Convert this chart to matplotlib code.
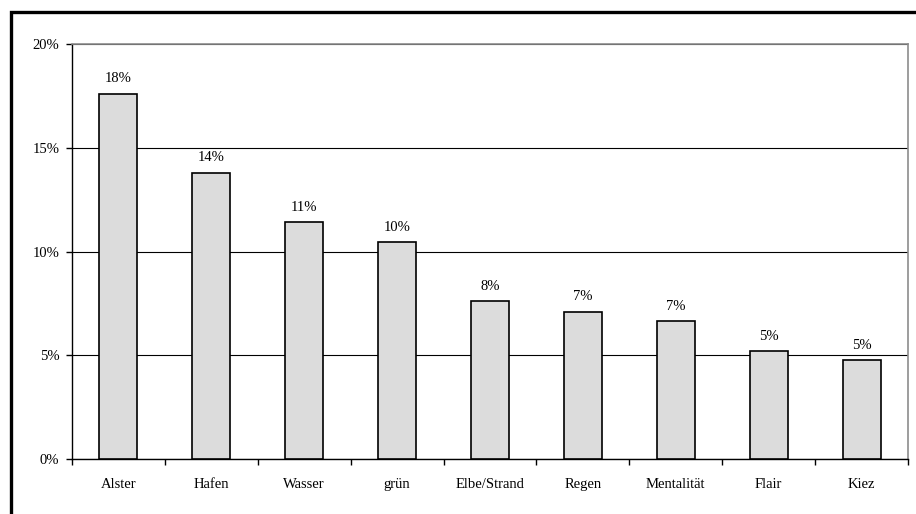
import matplotlib
import matplotlib.pyplot as plt
from matplotlib.patches import Rectangle
from matplotlib.ticker import FixedLocator, PercentFormatter

matplotlib.use('Agg')

begriffe = ["Alster", "Hafen", "Wasser", "grün", "Elbe/Strand", "Regen",
            "Mentalität", "Flair", "Kiez"]
anteile = [17.6, 13.8, 11.4, 10.45, 7.6, 7.1, 6.65, 5.2, 4.75]

plt.rcParams['font.family'] = ['Liberation Serif', 'DejaVu Serif']

fig = plt.figure(figsize=(9.16, 5.14), dpi=100)
ax = fig.add_axes([0.0786, 0.107, 0.9127, 0.8074])

x = range(len(begriffe))
bars = ax.bar(x, anteile, width=0.41, color='#dcdcdc', edgecolor='black',
              linewidth=1.2, zorder=3)

for b, v in zip(bars, anteile):
    ax.annotate(f"{round(v):d}%", (b.get_x() + b.get_width() / 2, v),
                xytext=(0, 6), textcoords='offset points',
                ha='center', va='bottom', fontsize=10.5)

ax.set_xlim(-0.5, len(begriffe) - 0.5)
ax.set_ylim(0, 20)
ax.set_yticks([0, 5, 10, 15, 20])
ax.yaxis.set_major_formatter(PercentFormatter(decimals=0))
ax.set_xticks(list(x))
ax.set_xticklabels(begriffe)
ax.xaxis.set_minor_locator(FixedLocator([i + 0.5 for i in range(-1, len(begriffe))]))
ax.tick_params(axis='x', which='major', length=0, pad=14, labelsize=10.5)
ax.tick_params(axis='x', which='minor', length=4, width=1, direction='out')
ax.tick_params(axis='y', length=4, width=1, pad=5, labelsize=10.5)

ax.grid(axis='y', color='black', linewidth=0.8, zorder=0)
for side in ('top', 'right'):
    ax.spines[side].set_color('#8c8c8c')
    ax.spines[side].set_linewidth(1.2)
for side in ('left', 'bottom'):
    ax.spines[side].set_linewidth(1.0)

# Rahmen um die gesamte Grafik
fig.patches.append(Rectangle((0.0115, -0.1), 1.2, 1.0774, transform=fig.transFigure,
                             fill=False, edgecolor='black', linewidth=2.4))

plt.savefig("out.png", dpi=100)
